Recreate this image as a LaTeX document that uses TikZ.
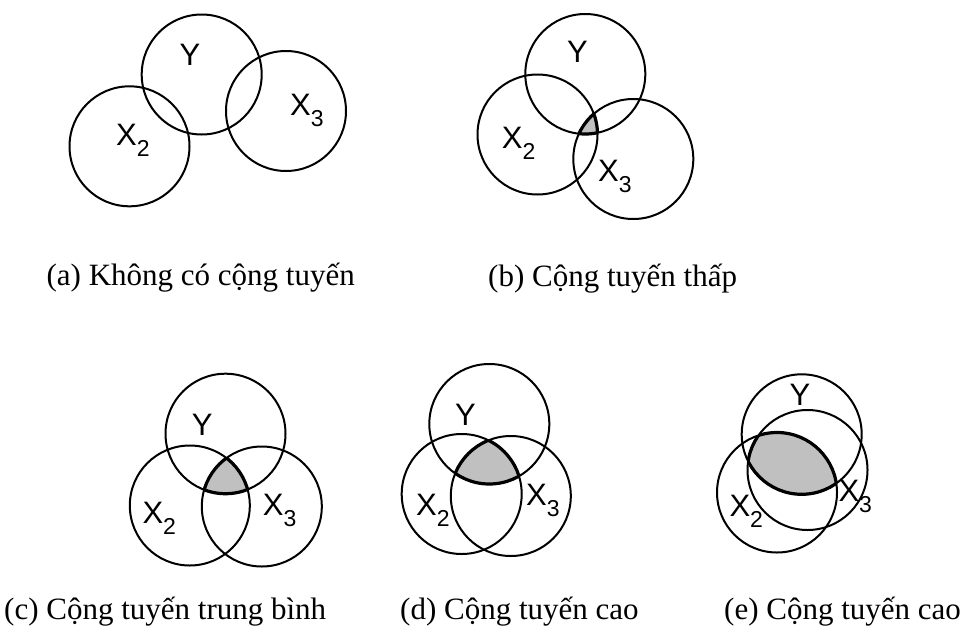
\documentclass[tikz,border=0pt]{standalone}
\usepackage{fontspec}
\setmainfont{Liberation Serif}
\newfontfamily\arialfont{Liberation Sans}
\definecolor{CoreGray}{RGB}{192,192,192}
\usetikzlibrary{positioning}

% variable name with a lowered index
\newcommand{\varlbl}[2]{#1\raisebox{-0.36em}{\fontsize{23}{23}\selectfont#2}}
% shaded common part of the three circles of one panel
\newcommand{\sharedcore}[1]{%
  \begin{scope}
    \clip (#1Y.center) circle (60);
    \clip (#1X2.center) circle (60);
    \fill[CoreGray] (#1X3.center) circle (60);
  \end{scope}
  \begin{scope}
    \clip (#1Y.center) circle (60);
    \clip (#1X2.center) circle (60);
    \draw[line width=3.2pt] (#1X3.center) circle (60);
  \end{scope}
  \begin{scope}
    \clip (#1Y.center) circle (60);
    \clip (#1X3.center) circle (60);
    \draw[line width=3.2pt] (#1X2.center) circle (60);
  \end{scope}
  \begin{scope}
    \clip (#1X2.center) circle (60);
    \clip (#1X3.center) circle (60);
    \draw[line width=3.2pt] (#1Y.center) circle (60);
  \end{scope}}

\begin{document}
\begin{tikzpicture}[x=1pt,y=1pt,
    ring/.style={circle,draw,line width=2pt,minimum size=120pt,inner sep=0pt},
    varname/.style={font=\fontsize{31}{31}\arialfont,inner sep=0pt,anchor=base west},
    captxt/.style={font=\fontsize{31}{31}\selectfont,inner sep=0pt}]
  \useasboundingbox (0,0) rectangle (971,-632);

  % (a) no overlap of all three
  \node[ring] (aY)  at (201.7,-74.5) {};
  \node[ring] (aX2) at (129.5,-146.3) {};
  \node[ring] (aX3) at (286,-111) {};
  \node[varname] (aYl)  at (179.3,-65) {Y};
  \node[varname] (aX2l) at (116,-145) {\varlbl{X}{2}};
  \node[varname] (aX3l) at (290,-115) {\varlbl{X}{3}};
  \node[captxt,anchor=base east] (acap) at (355,-285) {(a) Không có cộng tuyến};

  % (b)
  \node[ring] (bY)  at (585.3,-74) {};
  \node[ring] (bX2) at (537.5,-134.5) {};
  \node[ring] (bX3) at (633.3,-159) {};
  \sharedcore{b}
  \node[varname] (bYl)  at (567,-62.7) {Y};
  \node[varname] (bX2l) at (501.7,-148.3) {\varlbl{X}{2}};
  \node[varname] (bX3l) at (598,-181.7) {\varlbl{X}{3}};
  \node[captxt,anchor=base west] (bcap) at (488,-286) {(b) Cộng tuyến thấp};

  % (c)
  \node[ring] (cY)  at (225.5,-433.7) {};
  \node[ring] (cX2) at (189.8,-505.5) {};
  \node[ring] (cX3) at (261.8,-506.5) {};
  \sharedcore{c}
  \node[varname] (cYl)  at (191.7,-435) {Y};
  \node[varname] (cX2l) at (142.3,-523.3) {\varlbl{X}{2}};
  \node[varname] (cX3l) at (262.7,-515) {\varlbl{X}{3}};
  \node[captxt,anchor=base west] (ccap) at (4,-619) {(c) Cộng tuyến trung bình};

  % (d)
  \node[ring] (dY)  at (489.3,-424) {};
  \node[ring] (dX2) at (461.7,-494) {};
  \node[ring] (dX3) at (510.8,-496) {};
  \sharedcore{d}
  \node[varname] (dYl)  at (455,-425) {Y};
  \node[varname] (dX2l) at (416,-515) {\varlbl{X}{2}};
  \node[varname] (dX3l) at (526,-505) {\varlbl{X}{3}};
  \node[captxt,anchor=base west] (dcap) at (400,-619) {(d) Cộng tuyến cao};

  % (e)
  \node[ring] (eY)  at (801.7,-434.3) {};
  \node[ring] (eX2) at (777,-492.5) {};
  \node[ring] (eX3) at (807.5,-470) {};
  \sharedcore{e}
  \node[varname] (eYl)  at (789.3,-405) {Y};
  \node[varname] (eX2l) at (729.3,-516) {\varlbl{X}{2}};
  \node[varname] (eX3l) at (838.3,-501.7) {\varlbl{X}{3}};
  \node[captxt,anchor=base west] (ecap) at (724,-619) {(e) Cộng tuyến cao};
\end{tikzpicture}
\end{document}
